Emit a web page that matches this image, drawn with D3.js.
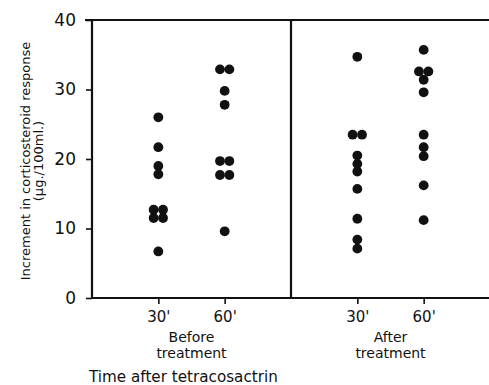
<!DOCTYPE html>
<html><head><meta charset="utf-8">
<script src="https://cdn.jsdelivr.net/npm/d3@7"></script>
<style>body{margin:0;background:#fff}svg{display:block}text{font-family:"DejaVu Sans",sans-serif;fill:#111}</style>
</head><body>
<script>
const panels = ["Before treatment", "After treatment"];
const times = ["30'", "60'"];
const yTicks = [0, 10, 20, 30, 40];
const before30 = [26.0, 21.7, 19.0, 17.8, 12.7, 12.7, 11.5, 11.5, 6.7];
const before60 = [32.9, 32.9, 29.8, 27.8, 19.7, 19.7, 17.7, 17.7, 9.6];
const after30 = [34.7, 23.5, 23.5, 20.5, 19.3, 18.2, 15.7, 11.4, 8.4, 7.1];
const after60 = [35.7, 32.6, 32.6, 31.4, 29.6, 23.5, 21.7, 20.4, 16.2, 11.2];

const series = [
  {panel: panels[0], time: times[0], values: before30},
  {panel: panels[0], time: times[1], values: before60},
  {panel: panels[1], time: times[0], values: after30},
  {panel: panels[1], time: times[1], values: after60}
];

const W = 489, H = 385;
const mLeft = 92, mTop = 20, mBottom = 298, mRight = 490;
const svg = d3.select("body").append("svg").attr("width", W).attr("height", H);

const y = d3.scaleLinear().domain([0, 40]).range([mBottom, mTop]);
const xPanel = d3.scaleBand().domain(panels).range([mLeft, mRight]).padding(0);
const xTime = d3.scalePoint().domain(times).range([0, xPanel.bandwidth()]).padding(1);

const ink = "#111";
// frame
svg.append("line").attr("x1", 85).attr("x2", W).attr("y1", mTop).attr("y2", mTop).attr("stroke", ink).attr("stroke-width", 2.2);
svg.append("line").attr("x1", mLeft).attr("x2", W).attr("y1", mBottom).attr("y2", mBottom).attr("stroke", ink).attr("stroke-width", 2.2);
svg.append("line").attr("x1", mLeft).attr("x2", mLeft).attr("y1", mTop).attr("y2", mBottom).attr("stroke", ink).attr("stroke-width", 2.2);
svg.append("line").attr("x1", xPanel(panels[1])).attr("x2", xPanel(panels[1])).attr("y1", mTop).attr("y2", mBottom).attr("stroke", ink).attr("stroke-width", 2.2);

// y axis
const yAxis = d3.axisLeft(y).tickValues(yTicks).tickSize(6).tickPadding(10).tickFormat(d => d);
const gy = svg.append("g").attr("transform", `translate(${mLeft},0)`).call(yAxis);
gy.select(".domain").remove();
gy.selectAll("line").attr("stroke", ink).attr("stroke-width", 1.6);
gy.selectAll("text").style("font-size", "17px").attr("fill", ink);

// x axes per panel
panels.forEach(p => {
  const g = svg.append("g").attr("transform", `translate(${xPanel(p)},${mBottom})`)
    .call(d3.axisBottom(xTime).tickSize(6).tickPadding(7));
  g.select(".domain").remove();
  g.selectAll("line").attr("stroke", ink).attr("stroke-width", 1.6);
  g.selectAll("text").style("font-size", "15px").attr("fill", ink);
  const cx = xPanel(p) + (xTime(times[0]) + xTime(times[1])) / 2;
  const words = p.split(" ");
  svg.append("text").attr("x", cx).attr("y", 342).attr("text-anchor", "middle").style("font-size", "14px").text(words[0]);
  svg.append("text").attr("x", cx).attr("y", 358).attr("text-anchor", "middle").style("font-size", "14px").text(words[1]);
});

svg.append("text").attr("x", 89).attr("y", 382).style("font-size", "15.2px").text("Time after tetracosactrin");

// y title
const yt = svg.append("text").attr("transform", `translate(30,161) rotate(-90)`).attr("text-anchor", "middle").style("font-size", "13px");
yt.append("tspan").attr("x", 0).attr("dy", 0).text("Increment in corticosteroid response");
yt.append("tspan").attr("x", 0).attr("dy", 13).text("(\u00b5g./100ml.)");

// dots: identical values in one column are spread side by side
const r = 4.9;
series.forEach(s => {
  const cx = xPanel(s.panel) + xTime(s.time);
  const counts = d3.rollup(s.values, v => v.length, d => d);
  const seen = new Map();
  const pts = s.values.map(v => {
    const n = counts.get(v), i = seen.get(v) || 0;
    seen.set(v, i + 1);
    return {v, dx: (i - (n - 1) / 2) * 9.4};
  });
  svg.selectAll(null).data(pts).join("circle")
    .attr("cx", d => cx + d.dx).attr("cy", d => y(d.v)).attr("r", r).attr("fill", ink);
});
</script>
</body></html>
